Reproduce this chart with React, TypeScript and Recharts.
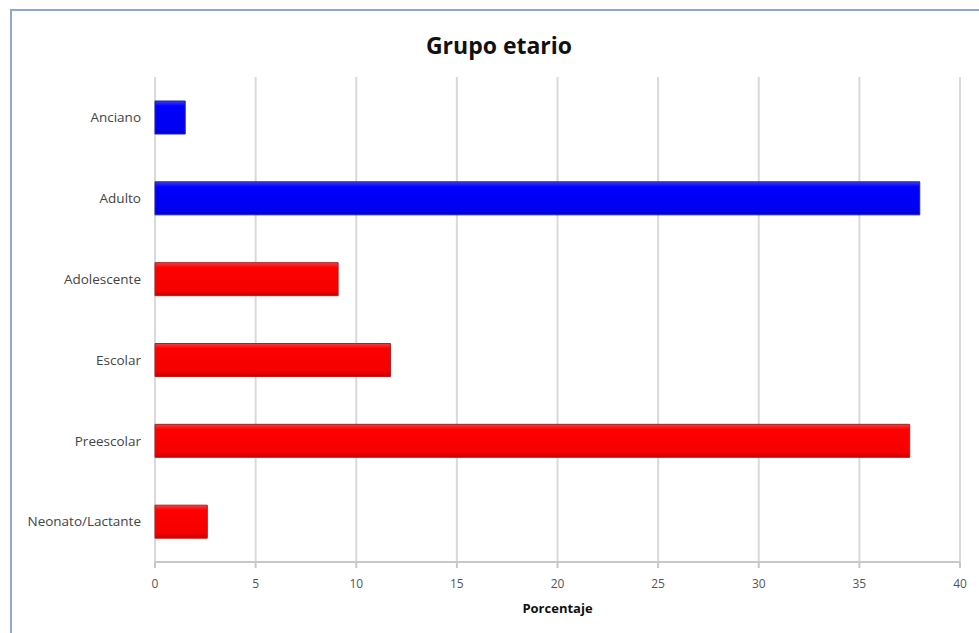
import React from "react";
import { BarChart, Bar, XAxis, YAxis, CartesianGrid, Cell } from "recharts";

const categories = ["Anciano", "Adulto", "Adolescente", "Escolar", "Preescolar", "Neonato/Lactante"];
const porcentaje = [1.5, 38.0, 9.1, 11.7, 37.5, 2.6];
const grupo = ["adulto", "adulto", "joven", "joven", "joven", "joven"];
const xTicks = [0, 5, 10, 15, 20, 25, 30, 35, 40];

const data = categories.map((c, i) => ({ name: c, value: porcentaje[i], grupo: grupo[i] }));

const FONT = "'Open Sans', 'Noto Sans', sans-serif";

export default function App() {
  return (
    <div style={{ position: "absolute", left: 0, top: 0, width: 979, height: 633, background: "#fff", overflow: "hidden", fontFamily: FONT }}>
      <div style={{ position: "absolute", left: 10, top: 9, width: 1000, height: 700, border: "2px solid #8ea9cc", boxSizing: "border-box" }} />
      <div style={{ position: "absolute", left: 0, top: 29, width: 998, textAlign: "center", fontSize: 23, fontWeight: 700, color: "#111" }}>
        Grupo etario
      </div>
      <div style={{ position: "absolute", left: 0, top: 0 }}>
        <BarChart
          width={979}
          height={633}
          data={data}
          layout="vertical"
          margin={{ top: 77, right: 19, bottom: 0, left: 0 }}
          barSize={33}
        >
          <defs>
            <linearGradient id="gBlue" x1="0" y1="0" x2="0" y2="1">
              <stop offset="0%" stopColor="#3a3aff" />
              <stop offset="15%" stopColor="#0000ff" />
              <stop offset="85%" stopColor="#0000f0" />
              <stop offset="100%" stopColor="#0000c0" />
            </linearGradient>
            <linearGradient id="gRed" x1="0" y1="0" x2="0" y2="1">
              <stop offset="0%" stopColor="#ff3a3a" />
              <stop offset="15%" stopColor="#ff0000" />
              <stop offset="85%" stopColor="#f50000" />
              <stop offset="100%" stopColor="#c00000" />
            </linearGradient>
          </defs>
          <CartesianGrid horizontal={false} vertical={true} stroke="#d9d9d9" strokeWidth={2} />
          <XAxis
            type="number"
            domain={[0, 40]}
            ticks={xTicks}
            height={71}
            stroke="#c8c8c8"
            strokeWidth={2}
            tickSize={6}
            tickMargin={11}
            tick={{ fill: "#555", fontSize: 12, fontFamily: FONT }}
            label={{ value: "Porcentaje", position: "insideTop", offset: 42, fill: "#111", fontSize: 13, fontWeight: 700, fontFamily: FONT }}
          />
          <YAxis
            type="category"
            dataKey="name"
            width={155}
            axisLine={false}
            tickLine={false}
            tickMargin={8}
            tick={{ fill: "#444", fontSize: 13.5, fontFamily: FONT }}
          />
          <Bar dataKey="value" isAnimationActive={false}>
            {data.map((d, i) => (
              <Cell
                key={i}
                fill={d.grupo === "adulto" ? "url(#gBlue)" : "url(#gRed)"}
                stroke={d.grupo === "adulto" ? "#2020b0" : "#b02020"}
                strokeWidth={1}
              />
            ))}
          </Bar>
        </BarChart>
      </div>
    </div>
  );
}
